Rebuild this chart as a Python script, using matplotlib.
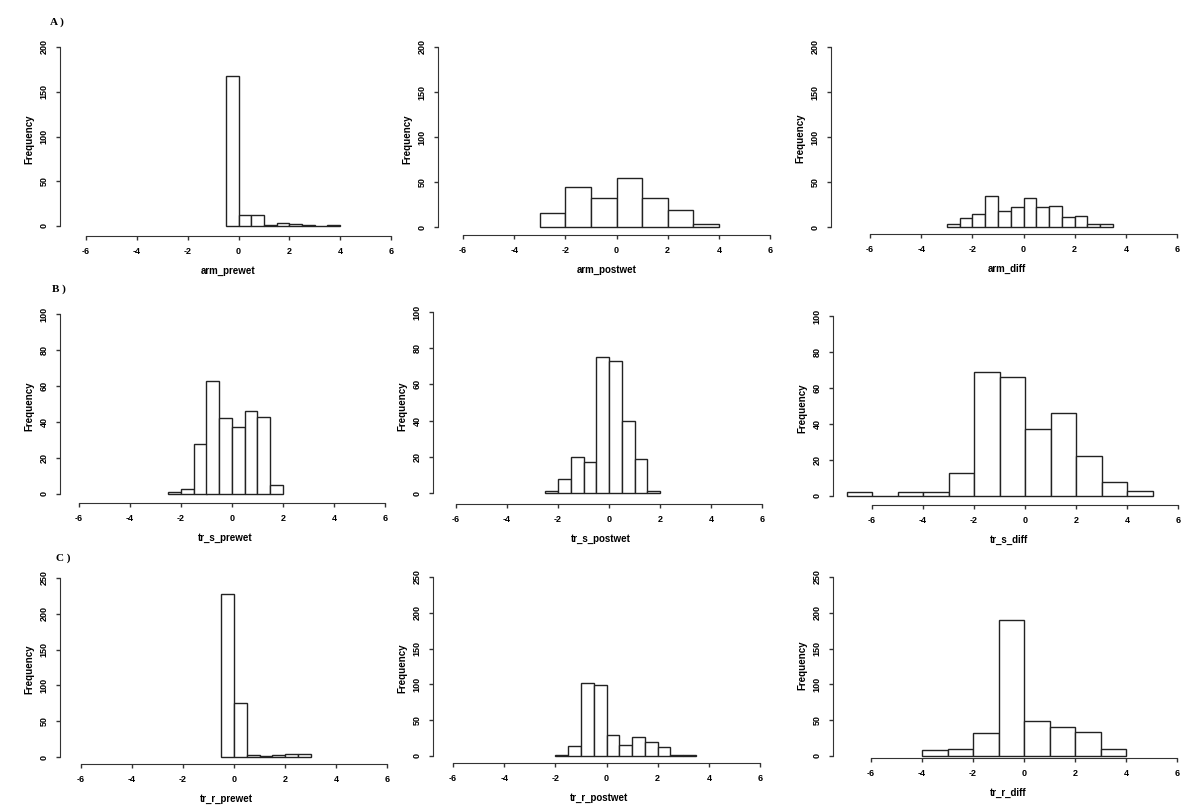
import numpy as np
import matplotlib
matplotlib.use("Agg")
import matplotlib.pyplot as plt

plt.rcParams['font.family'] = ['Liberation Sans', 'DejaVu Sans']
plt.rcParams['axes.unicode_minus'] = False

# histogram counts, bins given by start + width
arm_prewet = [168, 12, 12, 1, 3, 2, 1, 0, 1]
arm_postwet = [16, 45, 32, 55, 32, 19, 3]
arm_diff = [3, 10, 15, 35, 18, 22, 32, 22, 23, 11, 12, 3, 3]
tr_s_prewet = [1, 3, 28, 63, 42, 37, 46, 43, 5]
tr_s_postwet = [1, 8, 20, 17, 75, 73, 40, 19, 1]
tr_s_diff = [2, 0, 2, 2, 13, 69, 66, 37, 46, 22, 8, 3]
tr_r_prewet = [228, 75, 3, 1, 3, 4, 4]
tr_r_postwet = [2, 14, 102, 99, 29, 15, 27, 20, 13, 2, 2]
tr_r_diff = [8, 10, 32, 190, 49, 40, 33, 10]

names = ['arm_prewet', 'arm_postwet', 'arm_diff',
         'tr_s_prewet', 'tr_s_postwet', 'tr_s_diff',
         'tr_r_prewet', 'tr_r_postwet', 'tr_r_diff']
counts = [arm_prewet, arm_postwet, arm_diff,
          tr_s_prewet, tr_s_postwet, tr_s_diff,
          tr_r_prewet, tr_r_postwet, tr_r_diff]
bin_start = [-0.5, -3, -3, -2.5, -2.5, -7, -0.5, -2, -4]
bin_width = [0.5, 1, 0.5, 0.5, 0.5, 1, 0.5, 0.5, 1]
ymax = [200, 200, 200, 100, 100, 100, 250, 250, 250]
ystep = [50, 50, 50, 20, 20, 20, 50, 50, 50]
row_letters = ['A )', 'B )', 'C )']

# pixel layout: y-axis x, x=-6 px, x=6 px, y=0 px, y=max px, x-axis line px
layout = [
    (60, 86, 391, 226, 47, 236),
    (438, 463, 770, 227, 47, 235),
    (831, 870, 1177, 227, 47, 234),
    (60, 79, 385, 494, 314, 503),
    (433, 456, 762, 493, 312, 504),
    (833, 872, 1178, 496, 316, 505),
    (60, 81, 387, 757, 578, 764),
    (433, 453, 760, 756, 577, 763),
    (833, 871, 1177, 756, 577, 758),
]
letter_pos = [(50, 22), (52, 289), (56, 558)]

W, H = 1200, 811
fig = plt.figure(figsize=(W / 100, H / 100), dpi=100)

for i in range(9):
    yax, xm6, x6, y0, ytop, xline = layout[i]
    right = x6 + 6
    top = ytop - 4
    ax = fig.add_axes([yax / W, 1 - xline / H, (right - yax) / W, (xline - top) / H])
    u = (x6 - xm6) / 12.0
    v = (y0 - ytop) / float(ymax[i])
    ax.set_xlim(-6 - (xm6 - yax) / u, 6 + (right - x6) / u)
    ax.set_ylim(-(xline - y0) / v, ymax[i] + (ytop - top) / v)

    c = np.array(counts[i])
    edges = bin_start[i] + bin_width[i] * np.arange(len(c) + 1)
    ax.bar(edges[:-1], c, width=bin_width[i], align='edge',
           facecolor='white', edgecolor='#222222', linewidth=1.0)

    for s in ['top', 'right']:
        ax.spines[s].set_visible(False)
    ax.spines['left'].set_bounds(0, ymax[i])
    ax.spines['bottom'].set_bounds(-6, 6)
    ax.spines['left'].set_color('#333333')
    ax.spines['bottom'].set_color('#333333')
    ax.set_xticks(np.arange(-6, 7, 2))
    ax.set_yticks(np.arange(0, ymax[i] + 1, ystep[i]))
    ax.tick_params(axis='both', length=3, width=1, color='#333333',
                   labelsize=6.5, pad=5)
    for lab in ax.get_xticklabels():
        lab.set_fontweight('bold')
    for lab in ax.get_yticklabels():
        lab.set_fontweight('bold')
        lab.set_rotation(90)
        lab.set_va('center')
    ax.set_xlabel(names[i], fontsize=7, fontweight='bold', labelpad=7)
    ax.set_ylabel('Frequency', fontsize=7, fontweight='bold', labelpad=4)

for j in range(3):
    x, y = letter_pos[j]
    fig.text(x / W, 1 - y / H, row_letters[j], fontsize=8, fontweight='bold',
             family='Liberation Serif', va='center')

fig.savefig('out.png', dpi=100)
